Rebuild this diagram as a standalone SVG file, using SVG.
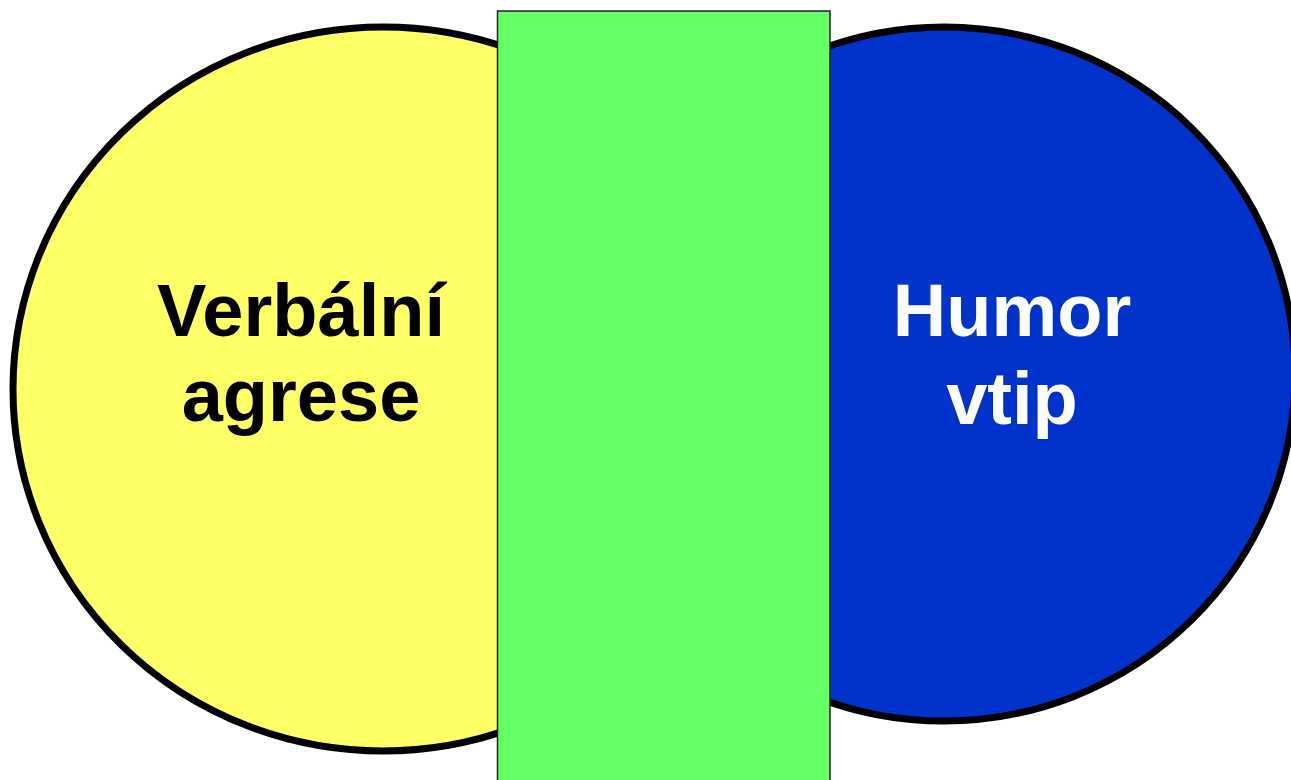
<svg xmlns="http://www.w3.org/2000/svg" width="1291" height="780" viewBox="0 0 1291 780">
<style>
.circ{stroke:#000;stroke-width:7}
.lbl{font-family:"Liberation Sans",Arial,sans-serif;font-weight:bold;font-size:74px;text-anchor:middle}
</style>
<rect width="1291" height="780" fill="#fff"/>
<g id="verbalni">
<ellipse class="circ" cx="383" cy="389" rx="370" ry="362" fill="#FFFF66"/>
<text class="lbl" fill="#000" x="301" y="336">Verbální</text>
<text class="lbl" fill="#000" x="301" y="421">agrese</text>
</g>
<g id="humor">
<ellipse class="circ" cx="944" cy="374" rx="351" ry="347" fill="#0033CC"/>
<text class="lbl" fill="#fff" x="1012" y="336">Humor</text>
<text class="lbl" fill="#fff" x="1012" y="424">vtip</text>
</g>
<g id="overlap">
<rect x="497.5" y="11" width="332.5" height="780" fill="#66FF66" stroke="#222" stroke-width="1.5"/>
</g>
<g id="connectors"/>
</svg>
